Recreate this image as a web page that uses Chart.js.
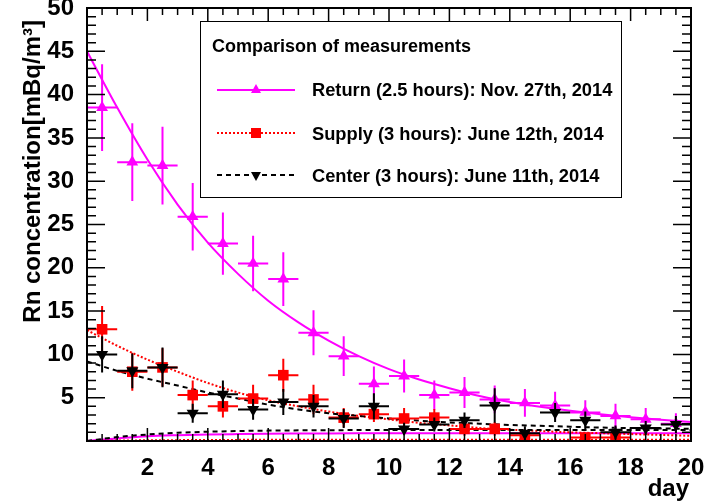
<!DOCTYPE html>
<html>
<head>
<meta charset="utf-8">
<script src="https://cdn.jsdelivr.net/npm/chart.js@4.4.1/dist/chart.umd.min.js"></script>
<style>
  html, body { margin: 0; padding: 0; background: #fff; }
  #wrap { width: 705px; height: 504px; }
</style>
</head>
<body>
<div id="wrap"><canvas id="chart" width="705" height="504"></canvas></div>
<script>
// measured points (bin centre in days, +-0.5 day bins)
const days = [0.5, 1.5, 2.5, 3.5, 4.5, 5.5, 6.5, 7.5, 8.5, 9.5, 10.5, 11.5, 12.5, 13.5, 14.5, 15.5, 16.5, 17.5, 18.5, 19.5];

const returnVals = [38.5, 32.2, 31.8, 25.9, 22.8, 20.5, 18.7, 12.5, 9.8, 6.6, 7.5, 5.3, 5.6, 4.8, 4.4, 4.1, 3.3, 2.9, 2.5, 2.0];
const returnErr  = [5.0, 4.5, 4.5, 3.9, 3.6, 3.2, 3.1, 2.6, 2.3, 2.0, 1.9, 1.7, 1.8, 1.6, 1.6, 1.6, 1.4, 1.4, 1.3, 1.2];

const supplyVals = [12.9, 8.0, 8.5, 5.3, 4.0, 4.9, 7.6, 4.8, 2.7, 3.1, 2.6, 2.7, 1.4, 1.4, 0.65, null, 0.4, 0.4, null, null];
const supplyErr  = [2.7, 2.2, 2.2, 1.7, 1.3, 1.6, 1.9, 1.7, 1.1, 0.9, 1.2, 1.0, 0.8, 0.8, 0.5, 0, 0.4, 0.4, 0, 0];

const centerVals = [10.0, 8.1, 8.5, 3.2, 5.4, 3.65, 4.5, 4.0, 2.6, 4.0, 1.4, 1.9, 2.4, 4.1, 0.9, 3.3, 2.4, 1.0, 1.5, 1.9];
const centerErr  = [2.1, 2.0, 2.3, 1.1, 1.6, 1.2, 1.5, 1.3, 1.1, 1.5, 0.7, 0.8, 0.9, 2.0, 0.8, 1.1, 1.0, 0.8, 0.8, 1.0];

// fitted curves at whole days
const fitDays = [0, 1, 2, 3, 4, 5, 6, 7, 8, 9, 10, 11, 12, 13, 14, 15, 16, 17, 18, 19, 20];
const returnFit = [45, 38.5, 32.5, 27.3, 22.9, 19.3, 16.2, 13.7, 11.6, 9.8, 8.3, 7.1, 6.1, 5.2, 4.5, 3.95, 3.5, 3.1, 2.75, 2.45, 2.2];
const supplyFit = [12.8, 11.0, 9.4, 8.0, 6.7, 5.6, 4.7, 4.0, 3.4, 2.9, 2.5, 2.1, 1.8, 1.5, 1.3, 1.15, 1.0, 0.9, 0.8, 0.7, 0.6];
const centerFit = [9.2, 8.1, 7.2, 6.4, 5.6, 4.9, 4.2, 3.65, 3.2, 2.9, 2.6, 2.35, 2.15, 2.0, 1.85, 1.75, 1.65, 1.55, 1.5, 1.45, 1.4];
const returnBg  = [0, 0.3, 0.55, 0.67, 0.75, 0.8, 0.84, 0.86, 0.88, 0.89, 0.9, 0.9, 0.9, 0.9, 0.9, 0.9, 0.9, 0.9, 0.9, 0.9, 0.9];
const supplyBg  = [0, 0.05, 0.08, 0.1, 0.12, 0.13, 0.14, 0.15, 0.15, 0.15, 0.15, 0.15, 0.15, 0.15, 0.15, 0.15, 0.15, 0.15, 0.15, 0.15, 0.15];
const centerBg  = [0, 0.45, 0.75, 0.95, 1.07, 1.15, 1.2, 1.23, 1.25, 1.26, 1.27, 1.27, 1.28, 1.28, 1.28, 1.28, 1.28, 1.28, 1.28, 1.28, 1.28];

const legendTitle = "Comparison of measurements";
const legendLabels = ["Return (2.5 hours): Nov. 27th, 2014", "Supply (3 hours): June 12th, 2014", "Center (3 hours): June 11th, 2014"];
const yTitle = "Rn concentration[mBq/m\u00B3]";
const xTitle = "day";

const MAGENTA = "#ff00ff";
const RED = "#ff0000";
const BLACK = "#000000";
const FONT = "'Liberation Sans', Arial, Helvetica, sans-serif";

function pts(xs, ys) {
  return xs.map((x, i) => ({ x: x, y: ys[i] })).filter(p => p.y !== null);
}

function pointSet(label, vals, errs, color, style, rot, radius) {
  const data = pts(days, vals);
  const e = errs.filter((v, i) => vals[i] !== null);
  return {
    type: "scatter",
    label: label,
    data: data,
    errY: e,
    color: color,
    pointStyle: style,
    rotation: rot,
    pointRadius: radius,
    pointBackgroundColor: color,
    pointBorderColor: color,
    pointBorderWidth: 0,
    showLine: false
  };
}

function curve(vals, color, dash) {
  return {
    type: "line",
    data: pts(fitDays, vals),
    borderColor: color,
    borderWidth: 2,
    borderDash: dash,
    pointRadius: 0,
    cubicInterpolationMode: "monotone",
    fill: false
  };
}

const rootStyle = {
  id: "rootStyle",
  beforeDatasetDraw(chart, args) {
    const ds = chart.data.datasets[args.index];
    if (!ds.errY) return;
    const xs = chart.scales.x, ys = chart.scales.y;
    const ctx = chart.ctx;
    ctx.save();
    ctx.strokeStyle = ds.color;
    ctx.lineWidth = 2;
    ds.data.forEach((p, i) => {
      const cx = xs.getPixelForValue(p.x), cy = ys.getPixelForValue(p.y);
      const x0 = xs.getPixelForValue(p.x - 0.5), x1 = xs.getPixelForValue(p.x + 0.5);
      const y0 = ys.getPixelForValue(Math.max(0, p.y - ds.errY[i]));
      const y1 = ys.getPixelForValue(p.y + ds.errY[i]);
      ctx.beginPath();
      ctx.moveTo(x0, cy); ctx.lineTo(x1, cy);
      ctx.moveTo(cx, y0); ctx.lineTo(cx, y1);
      ctx.stroke();
    });
    ctx.restore();
  },
  afterDraw(chart) {
    const ctx = chart.ctx;
    const a = chart.chartArea;
    const xs = chart.scales.x, ys = chart.scales.y;
    ctx.save();
    // frame
    ctx.strokeStyle = BLACK;
    ctx.lineWidth = 2;
    ctx.strokeRect(a.left, a.top, a.right - a.left, a.bottom - a.top);
    // inner ticks on all four sides
    ctx.lineWidth = 1.5;
    ctx.beginPath();
    for (let i = 0; i <= 40; i++) {
      const v = i * 0.5;
      const px = xs.getPixelForValue(v);
      const len = (v % 2 === 0) ? 13 : 7;
      ctx.moveTo(px, a.bottom); ctx.lineTo(px, a.bottom - len);
      ctx.moveTo(px, a.top); ctx.lineTo(px, a.top + len);
    }
    for (let v = 0; v <= 50; v++) {
      const py = ys.getPixelForValue(v);
      const len = (v % 5 === 0) ? 18 : 9;
      ctx.moveTo(a.left, py); ctx.lineTo(a.left + len, py);
      ctx.moveTo(a.right, py); ctx.lineTo(a.right - len, py);
    }
    ctx.stroke();

    // axis titles
    ctx.fillStyle = BLACK;
    ctx.font = "bold 24px " + FONT;
    ctx.textAlign = "right";
    ctx.textBaseline = "alphabetic";
    ctx.fillText(xTitle, a.right - 2, 496);
    ctx.save();
    ctx.translate(40, 20);
    ctx.rotate(-Math.PI / 2);
    ctx.fillText(yTitle, 0, 0);
    ctx.restore();

    // legend box
    ctx.fillStyle = "#fff";
    ctx.fillRect(200, 21, 421, 176);
    ctx.strokeStyle = BLACK;
    ctx.lineWidth = 1;
    ctx.strokeRect(200.5, 21.5, 421, 176);
    ctx.fillStyle = BLACK;
    ctx.textAlign = "left";
    ctx.font = "bold 18px " + FONT;
    ctx.fillText(legendTitle, 212, 51.5);

    const rows = [
      { y: 90, base: 96, color: MAGENTA, dash: [], marker: "up" },
      { y: 133, base: 140, color: RED, dash: [2, 2], marker: "square" },
      { y: 175, base: 181.5, color: BLACK, dash: [5, 4], marker: "down" }
    ];
    ctx.font = "bold 18.3px " + FONT;
    rows.forEach((r, i) => {
      ctx.strokeStyle = r.color;
      ctx.lineWidth = 2;
      ctx.setLineDash(r.dash);
      ctx.beginPath();
      ctx.moveTo(217, r.y); ctx.lineTo(295, r.y);
      ctx.stroke();
      ctx.setLineDash([]);
      ctx.fillStyle = r.color;
      ctx.beginPath();
      if (r.marker === "up") {
        ctx.moveTo(256, r.y - 6); ctx.lineTo(261, r.y + 3); ctx.lineTo(251, r.y + 3);
      } else if (r.marker === "down") {
        ctx.moveTo(256, r.y + 6); ctx.lineTo(261, r.y - 3); ctx.lineTo(251, r.y - 3);
      } else {
        ctx.rect(251, r.y - 5, 10, 10);
      }
      ctx.closePath();
      ctx.fill();
      ctx.fillStyle = BLACK;
      ctx.fillText(legendLabels[i], 312, r.base);
    });
    ctx.restore();
  }
};

new Chart(document.getElementById("chart"), {
  data: {
    datasets: [
      pointSet("Center", centerVals, centerErr, BLACK, "triangle", 180, 7),
      pointSet("Supply", supplyVals, supplyErr, RED, "rect", 0, 7.5),
      pointSet("Return", returnVals, returnErr, MAGENTA, "triangle", 0, 6.8),
      curve(centerFit, BLACK, [5, 4]),
      curve(centerBg, BLACK, [5, 4]),
      curve(supplyFit, RED, [2, 2]),
      curve(supplyBg, RED, [2, 2]),
      curve(returnFit, MAGENTA, []),
      curve(returnBg, MAGENTA, [])
    ]
  },
  options: {
    responsive: false,
    animation: false,
    layout: { padding: { top: 8, right: 14, left: 0, bottom: 0 } },
    plugins: { legend: { display: false }, tooltip: { enabled: false } },
    scales: {
      x: {
        type: "linear",
        min: 0,
        max: 20,
        grid: { display: false },
        border: { display: false },
        ticks: {
          stepSize: 2,
          padding: 5,
          color: BLACK,
          font: { family: FONT, size: 24, weight: "bold" },
          callback: v => (v === 0 ? "" : v)
        },
        afterFit: s => { s.height = 63; s.paddingLeft = 0; s.paddingRight = 0; }
      },
      y: {
        type: "linear",
        min: 0,
        max: 50,
        grid: { display: false },
        border: { display: false },
        ticks: {
          stepSize: 5,
          padding: 5,
          color: BLACK,
          font: { family: FONT, size: 24, weight: "bold" },
          callback: v => (v === 0 ? "" : v)
        },
        afterFit: s => { s.width = 87; s.paddingTop = 0; s.paddingBottom = 0; }
      }
    }
  },
  plugins: [rootStyle]
});
</script>
</body>
</html>
